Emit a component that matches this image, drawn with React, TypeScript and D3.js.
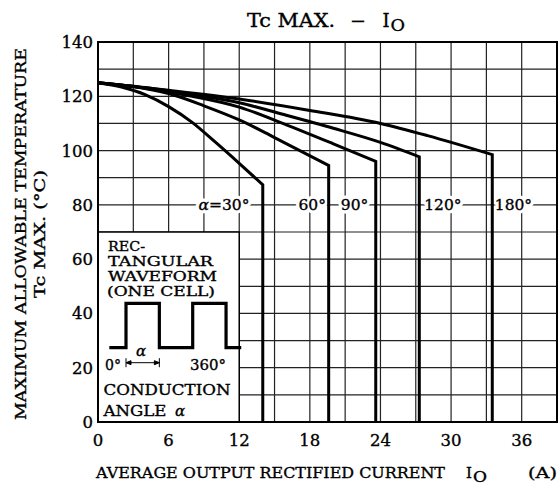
import React from 'react';
import * as d3 from 'd3';

// ---- data ----
const xTicks = [0, 6, 12, 18, 24, 30, 36];
const yTicks = [0, 20, 40, 60, 80, 100, 120, 140];
const xGrid = [3, 6, 9, 12, 15, 18, 21, 24, 27, 30, 33, 36];
const yGrid = [10, 20, 30, 40, 50, 60, 70, 80, 90, 100, 110, 120, 130];

const curve30: [number, number][] = [[0, 125], [2, 123.4], [4, 120.6], [6, 116.2], [8, 110.4], [10, 103], [12, 95.3], [14, 87.4]];
const curve60: [number, number][] = [[0, 125], [3, 123.6], [6, 121], [9, 116.5], [12, 111.3], [15, 104.8], [19.6, 94.5]];
const curve90: [number, number][] = [[0, 125], [4, 123], [8, 120], [12, 116], [16, 109.5], [20, 102.5], [23.6, 96]];
const curve120: [number, number][] = [[0, 125], [4, 123.2], [8, 120.6], [12, 117.6], [16, 113], [20, 108.2], [24, 103], [27.3, 97.7]];
const curve180: [number, number][] = [[0, 125], [6, 122.2], [12, 119], [18, 114.8], [24, 110], [28, 105.5], [33.5, 98.5]];
const curves = [curve30, curve60, curve90, curve120, curve180];

const labelText = ['30°', '60°', '90°', '120°', '180°'];
const labelI = [10.7, 18.2, 21.8, 29.3, 35.3];
const labelT = 80;

// inset waveform (degrees, level)
const waveAngle = [-90, 0, 0, 180, 180, 360, 360, 540, 540, 622];
const waveLevel = [0, 0, 1, 1, 0, 0, 1, 1, 0, 0];
const insetI = [0, 12];
const insetT = [0, 70];

const FONT = 'DejaVu Serif';
const INK = { fill: '#000', stroke: '#000', strokeWidth: 0.35 };

export default function App() {
  const W = 560, H = 488;
  const x = d3.scaleLinear().domain([0, 39]).range([98, 557]);
  const y = d3.scaleLinear().domain([0, 140]).range([422, 42]);
  const line = d3.line<[number, number]>().x(d => x(d[0])).y(d => y(d[1])).curve(d3.curveMonotoneX);

  const ang = d3.scaleLinear().domain([0, 360]).range([126, 192.7]);
  const lev = d3.scaleLinear().domain([0, 1]).range([347.7, 303.3]);
  const wavePath = d3.line<number>().x((_, i) => ang(waveAngle[i])).y((_, i) => lev(waveLevel[i]))(waveAngle.map((_, i) => i));

  const arrowY = 362.7;
  const a0 = ang(0), a1 = ang(180);

  const labelContent = (t: string, i: number) =>
    i === 0 ? <><tspan fontStyle="italic">α</tspan>{'=' + t}</> : t;

  return (
    <svg width={W} height={H} style={{ position: 'absolute', left: 0, top: 0, background: '#fff' }} fontFamily={FONT}>
      <rect width={W} height={H} fill="#fff" />
      {/* title */}
      <g fontSize={18} {...INK}>
        <text x={247} y={26.5} textLength={88} lengthAdjust="spacingAndGlyphs">Tc MAX.</text>
        <text x={350} y={26.5} textLength={16} lengthAdjust="spacingAndGlyphs">−</text>
        <text x={382.5} y={26.5}>I</text>
        <text x={390.5} y={30.5} fontSize={17} textLength={14.5} lengthAdjust="spacingAndGlyphs">O</text>
      </g>

      {/* grid */}
      <g stroke="#222" strokeWidth={1.2}>
        {xGrid.map(v => <line key={'gx' + v} x1={x(v)} x2={x(v)} y1={y(0)} y2={y(140)} />)}
        {yGrid.map(v => <line key={'gy' + v} x1={x(0)} x2={x(39)} y1={y(v)} y2={y(v)} />)}
      </g>

      {/* angle labels: white halo behind */}
      <g fontSize={15.5} textAnchor="middle">
        {labelText.map((t, i) => (
          <text key={'h' + t} x={x(labelI[i])} y={y(labelT) + 5.5} fill="#fff" stroke="#fff" strokeWidth={7} strokeLinejoin="round">
            {labelContent(t, i)}
          </text>
        ))}
        {labelText.map((t, i) => (
          <text key={t} x={x(labelI[i])} y={y(labelT) + 5.5} {...INK}>
            {labelContent(t, i)}
          </text>
        ))}
      </g>

      {/* curves */}
      <g fill="none" stroke="#000" strokeWidth={3} strokeLinejoin="miter">
        {curves.map((c, i) => {
          const last = c[c.length - 1];
          return <path key={i} d={line(c) + `L${x(last[0])},${y(0)}`} />;
        })}
      </g>

      {/* inset */}
      <rect x={x(insetI[0])} y={y(insetT[1])} width={x(insetI[1]) - x(insetI[0])} height={y(insetT[0]) - y(insetT[1])} fill="#fff" stroke="#000" strokeWidth={1.5} />
      <g fontSize={13} {...INK}>
        <text x={108} y={250.5} textLength={37} lengthAdjust="spacingAndGlyphs">REC-</text>
        <text x={108} y={265.8} textLength={105} lengthAdjust="spacingAndGlyphs">TANGULAR</text>
        <text x={108} y={281} textLength={109} lengthAdjust="spacingAndGlyphs">WAVEFORM</text>
        <text x={107} y={296.3} textLength={108} lengthAdjust="spacingAndGlyphs">(ONE CELL)</text>
      </g>
      <g fontSize={15} {...INK}>
        <text x={105} y={370} textLength={16} lengthAdjust="spacingAndGlyphs">0°</text>
        <text x={190} y={370} textLength={36} lengthAdjust="spacingAndGlyphs">360°</text>
        <text x={141} y={356} textAnchor="middle" fontStyle="italic">α</text>
        <text x={103.5} y={395} textLength={127} lengthAdjust="spacingAndGlyphs">CONDUCTION</text>
        <text x={103.5} y={415.5} textLength={63} lengthAdjust="spacingAndGlyphs">ANGLE</text>
        <text x={175} y={415.5} fontStyle="italic">α</text>
      </g>
      <path d={wavePath || ''} fill="none" stroke="#000" strokeWidth={3.2} strokeLinejoin="miter" />
      <g stroke="#000" strokeWidth={1} fill="#000">
        <line x1={a0} x2={a1} y1={arrowY} y2={arrowY} />
        <line x1={a0} x2={a0} y1={arrowY - 4.5} y2={arrowY + 4.5} />
        <line x1={a1} x2={a1} y1={arrowY - 4.5} y2={arrowY + 4.5} />
        <path d={`M${a0},${arrowY}l5,-2l0,4z`} />
        <path d={`M${a1},${arrowY}l-5,-2l0,4z`} />
      </g>

      {/* border */}
      <rect x={x(0)} y={y(140)} width={x(39) - x(0)} height={y(0) - y(140)} fill="none" stroke="#000" strokeWidth={2} />

      {/* ticks labels */}
      <g fontSize={16.5} {...INK}>
        {yTicks.map(v => <text key={'yt' + v} x={93} y={y(v) + 6} textAnchor="end">{v}</text>)}
        {xTicks.map(v => <text key={'xt' + v} x={x(v)} y={446} textAnchor="middle">{v}</text>)}
      </g>

      {/* axis titles */}
      <g fontSize={15} {...INK}>
        <text transform={`translate(26,234) rotate(-90)`} textAnchor="middle" textLength={372} lengthAdjust="spacingAndGlyphs">MAXIMUM ALLOWABLE TEMPERATURE</text>
        <text transform={`translate(45,234) rotate(-90)`} textAnchor="middle" textLength={128} lengthAdjust="spacingAndGlyphs">Tc MAX. (°C)</text>
        <text x={96} y={478} textLength={349} lengthAdjust="spacingAndGlyphs">AVERAGE OUTPUT RECTIFIED CURRENT</text>
        <text x={466} y={478}>I</text>
        <text x={473} y={482} fontSize={14} textLength={14} lengthAdjust="spacingAndGlyphs">O</text>
        <text x={528} y={478} textLength={29} lengthAdjust="spacingAndGlyphs">(A)</text>
      </g>
    </svg>
  );
}
